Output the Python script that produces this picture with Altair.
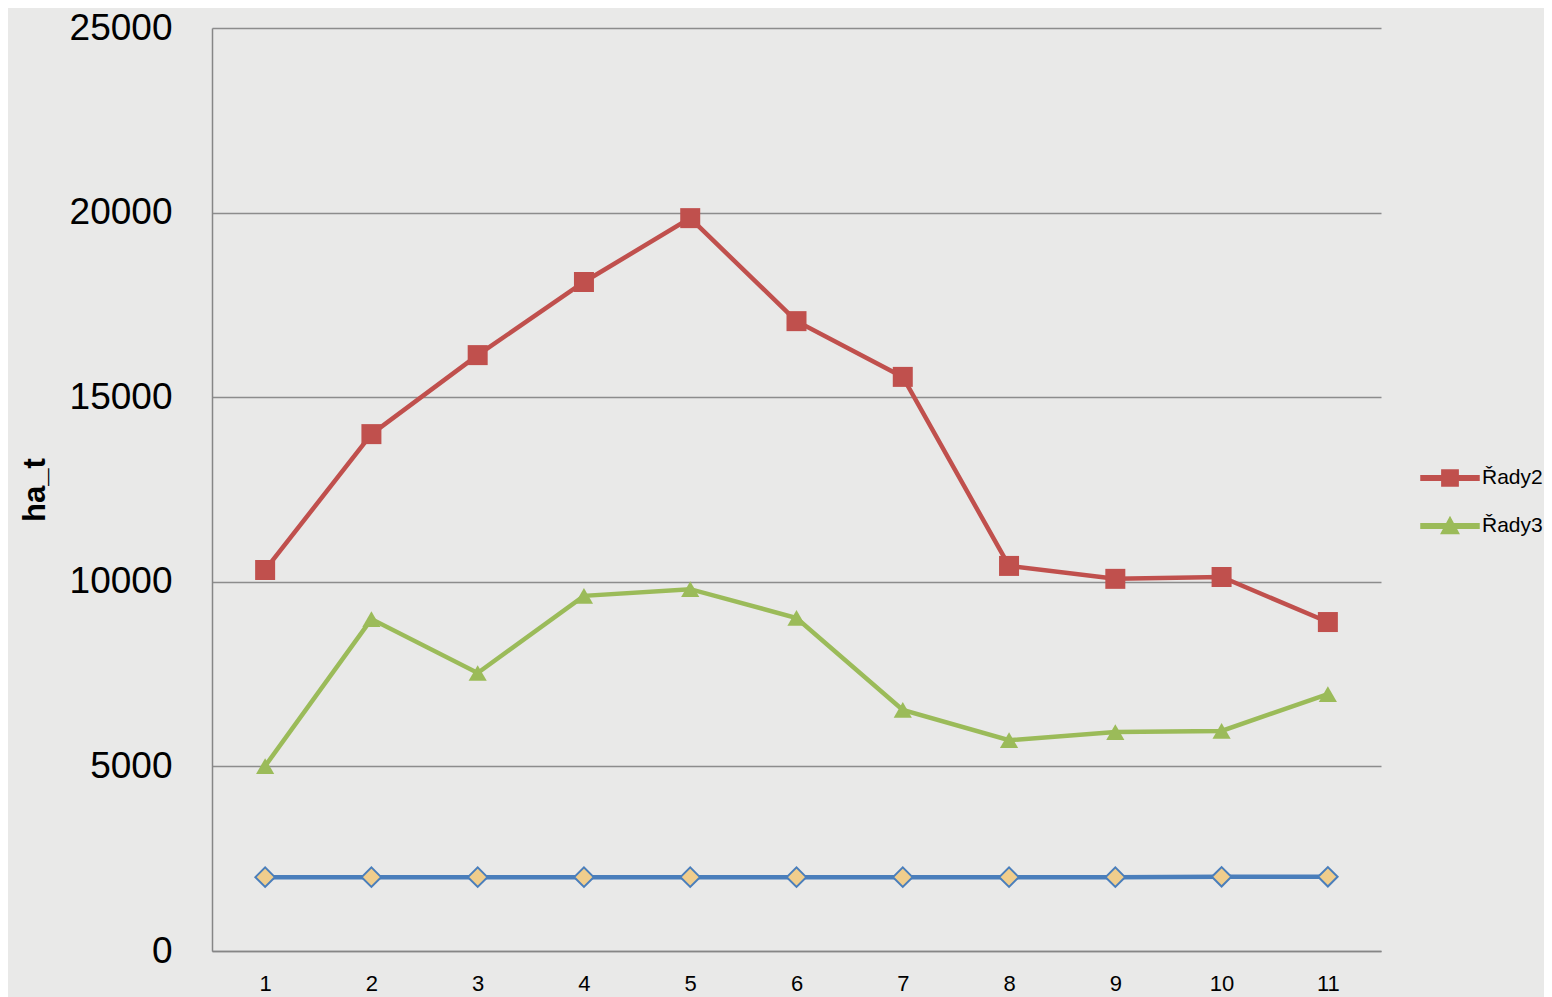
import altair as alt
import pandas as pd

x_labels = [1, 2, 3, 4, 5, 6, 7, 8, 9, 10, 11]
rady1 = [2000, 2000, 2000, 2000, 2000, 2000, 2000, 2000, 2000, 2010, 2010]
rady2 = [10320, 14000, 16140, 18120, 19850, 17060, 15550, 10430, 10080, 10130, 8910]
rady3 = [5010, 8990, 7530, 9620, 9800, 9020, 6530, 5710, 5930, 5960, 6960]
series_names = ["Řady1", "Řady2", "Řady3"]
colors = ["#4a7ebb", "#c0504d", "#9bbb59"]
legend_names = ["Řady2", "Řady3"]

rows = []
for name, vals in zip(series_names, [rady1, rady2, rady3]):
    for x, v in zip(x_labels, vals):
        rows.append({"x": x, "series": name, "value": v})
df = pd.DataFrame(rows)

FONT = "Liberation Sans"

xenc = alt.X("x:O", scale=alt.Scale(type="point", padding=0.5),
             axis=alt.Axis(title=None, labelAngle=0, labelFontSize=22, labelColor="black",
                           labelFont=FONT, labelPadding=22, ticks=False, grid=False,
                           domainColor="#868686", domainWidth=1.5))
yenc = alt.Y("value:Q", scale=alt.Scale(domain=[0, 25000], nice=False),
             axis=alt.Axis(title="ha_t", values=[0, 5000, 10000, 15000, 20000, 25000], format="d",
                           labelFontSize=37, labelColor="black", labelFont=FONT,
                           labelPadding=40, ticks=False, grid=True, gridColor="#8c8c8c",
                           gridWidth=1.3, domainColor="#868686", domainWidth=1.5,
                           titleFontSize=31, titleFont=FONT, titleFontWeight="bold",
                           titleColor="black", titlePadding=18))

leg = alt.Legend(title=None, orient="none", legendX=1208, legendY=420, values=legend_names,
                 symbolSize=3364, labelFontSize=21, labelFont=FONT,
                 labelColor="black", labelOffset=2, rowPadding=6, padding=0)
color_enc = alt.Color("series:N", scale=alt.Scale(domain=series_names, range=colors), legend=leg)

base = alt.Chart(df)

lines = base.mark_line(strokeWidth=4.5).encode(
    x=xenc, y=yenc, color=color_enc, detail="series:N",
)

pts1 = base.transform_filter(alt.datum.series == "Řady1").mark_point(
    shape="diamond", filled=True, fill="#f0cd8c", stroke="#4a7ebb", strokeWidth=2, size=380, opacity=1
).encode(x=xenc, y=yenc)
pts2 = base.transform_filter(alt.datum.series == "Řady2").mark_point(
    shape="square", filled=True, color="#c0504d", size=400, opacity=1
).encode(x=xenc, y=yenc)
pts3 = base.transform_filter(alt.datum.series == "Řady3").mark_point(
    shape="triangle-up", filled=True, color="#9bbb59", size=330, opacity=1
).encode(x=xenc, y=yenc)

line_path = "M-1,-0.075H1V0.075H-1Z"
sq_path = "M-1,-0.075H1V0.075H-1Z M-0.28,-0.28H0.28V0.28H-0.28Z"
tri_path = "M-1,-0.075H1V0.075H-1Z M0,-0.3L0.3,0.26H-0.3Z"

legend_layer = base.transform_filter("false").mark_point(filled=True, size=3364, opacity=1).encode(
    x=xenc, y=yenc,
    color=color_enc,
    shape=alt.Shape("series:N", scale=alt.Scale(domain=series_names, range=[line_path, sq_path, tri_path]),
                    legend=leg),
)

chart = alt.layer(lines, pts1, pts2, pts3, legend_layer).properties(
    width=1169, height=923,
    autosize=alt.AutoSizeParams(type="none"),
    padding={"left": 204, "top": 20, "right": 163, "bottom": 50},
    background="#e9e9e8",
).configure_view(stroke=None)

chart.save("out.html", embed_options={"renderer": "svg", "actions": False})
